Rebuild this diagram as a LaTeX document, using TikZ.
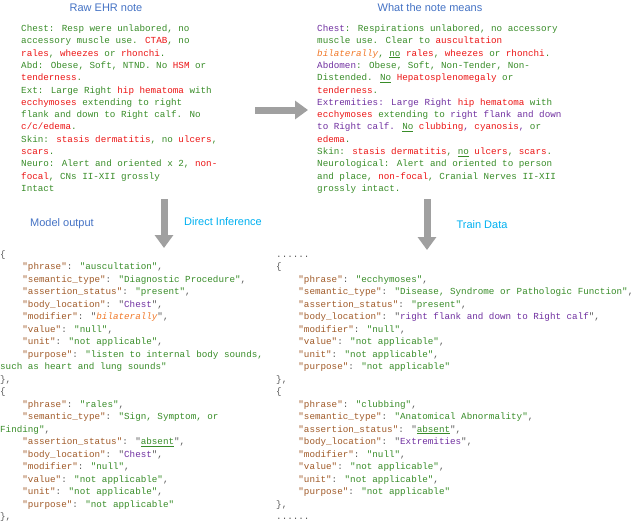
\documentclass[tikz,border=0pt]{standalone}
\usepackage{fontspec}
\usetikzlibrary{arrows.meta}
\newfontfamily\mono{Liberation Mono}
\newfontfamily\sans{Liberation Sans}
\definecolor{tg}{RGB}{56,140,40}
\definecolor{tr}{RGB}{235,20,20}
\definecolor{tp}{RGB}{112,48,160}
\definecolor{to}{RGB}{240,120,40}
\definecolor{tk}{RGB}{160,90,40}
\definecolor{td}{RGB}{90,90,90}
\definecolor{tb}{RGB}{68,114,196}
\definecolor{tc}{RGB}{0,176,240}
\definecolor{ta}{RGB}{160,160,160}
\newcommand\R[1]{\textcolor{tr}{#1}}
\newcommand\Pp[1]{\textcolor{tp}{#1}}
\newcommand\Ov[1]{\textcolor{to}{\itshape #1}}
\newcommand\K[1]{\textcolor{tk}{"#1"}}
\newcommand\V[1]{\textcolor{tg}{"#1"}}
\newcommand\Ul[1]{\underline{#1}}
\begin{document}
\begin{tikzpicture}[x=1pt,y=-1pt,
  ln/.style={anchor=base west,inner sep=0,text=tg,font=\mono\fontsize{9.25}{12}\selectfont},
  js/.style={ln,text=td},
  ttl/.style={inner sep=0,font=\sans\fontsize{11}{13}\selectfont},
  bigarrow/.style={line width=7pt,ta,-{Triangle[width=18pt,length=13pt]}}]
\useasboundingbox (0,0) rectangle (640,522);
% titles
\node[ttl,text=tb] (t1) at (106,8) {Raw EHR note};
\node[ttl,text=tb] (t2) at (430,8) {What the note means};
\node[ttl,text=tb] (t3) at (62,224) {Model output};
\node[ttl,text=tc] (t4) at (223,222) {Direct Inference};
\node[ttl,text=tc] (t5) at (482,225) {Train Data};
% raw note
\node[ln] (a1) at (21,31.5) {Chest: Resp were unlabored, no};
\node[ln] (a2) at (21,43.8) {accessory muscle use. \R{CTAB}, no};
\node[ln] (a3) at (21,56.1) {\R{rales}, \R{wheezes} or \R{rhonchi}.};
\node[ln] (a4) at (21,68.4) {Abd: Obese, Soft, NTND. No \R{HSM} or};
\node[ln] (a5) at (21,80.7) {\R{tenderness}.};
\node[ln] (a6) at (21,93.0) {Ext: Large Right \R{hip hematoma} with};
\node[ln] (a7) at (21,105.3) {\R{ecchymoses} extending to right};
\node[ln] (a8) at (21,117.6) {flank and down to Right calf. No};
\node[ln] (a9) at (21,129.9) {\R{c/c/edema}.};
\node[ln] (a10) at (21,142.2) {Skin: \R{stasis dermatitis}, no \R{ulcers},};
\node[ln] (a11) at (21,154.5) {\R{scars}.};
\node[ln] (a12) at (21,166.8) {Neuro: Alert and oriented x 2, \R{non-}};
\node[ln] (a13) at (21,179.1) {\R{focal}, CNs II-XII grossly};
\node[ln] (a14) at (21,191.4) {Intact};
% meaning
\node[ln] (b1) at (317,31.5) {\Pp{Chest}: Respirations unlabored, no accessory};
\node[ln] (b2) at (317,43.8) {muscle use. Clear to \R{auscultation}};
\node[ln] (b3) at (317,56.1) {\Ov{bilaterally}, \Ul{no} \R{rales}, \R{wheezes} or \R{rhonchi}.};
\node[ln] (b4) at (317,68.4) {\Pp{Abdomen}: Obese, Soft, Non-Tender, Non-};
\node[ln] (b5) at (317,80.7) {Distended. \Ul{No} \R{Hepatosplenomegaly} or};
\node[ln] (b6) at (317,93.0) {\R{tenderness}.};
\node[ln,text=tp] (b7) at (317,105.3) {Extremities: Large Right \R{hip hematoma} \textcolor{tg}{with}};
\node[ln,text=tp] (b8) at (317,117.6) {\R{ecchymoses} \textcolor{tg}{extending to} right flank and down};
\node[ln,text=tp] (b9) at (317,129.9) {to Right calf. \textcolor{tg}{\Ul{No}} \R{clubbing}, \R{cyanosis}, \textcolor{tg}{or}};
\node[ln] (b10) at (317,142.2) {\R{edema}.};
\node[ln] (b11) at (317,154.5) {Skin: \R{stasis dermatitis}, \Ul{no} \R{ulcers}, \R{scars}.};
\node[ln] (b12) at (317,166.8) {Neurological: Alert and oriented to person};
\node[ln] (b13) at (317,179.1) {and place, \R{non-focal}, Cranial Nerves II-XII};
\node[ln] (b14) at (317,191.4) {grossly intact.};
% arrows
\coordinate (h1) at (255,110); \coordinate (h2) at (308,110);
\draw[bigarrow] (h1) -- (h2);
\coordinate (v1) at (164,199); \coordinate (v2) at (164,248);
\draw[bigarrow] (v1) -- (v2);
\coordinate (w1) at (427,199); \coordinate (w2) at (427,250);
\draw[bigarrow] (w1) -- (w2);
% model output
\node[js] (c0) at (0,257) {\{};
\node[js] (c1) at (22.2,269.5) {\K{phrase}: \V{auscultation},};
\node[js] (c2) at (22.2,282) {\K{semantic\_type}: \V{Diagnostic Procedure},};
\node[js] (c3) at (22.2,294.5) {\K{assertion\_status}: \V{present},};
\node[js] (c4) at (22.2,307) {\K{body\_location}: "\Pp{Chest}",};
\node[js] (c5) at (22.2,319.5) {\K{modifier}: "\Ov{bilaterally}",};
\node[js] (c6) at (22.2,332) {\K{value}: \V{null},};
\node[js] (c7) at (22.2,344.5) {\K{unit}: \V{not applicable},};
\node[js] (c8) at (22.2,357) {\K{purpose}: \textcolor{tg}{"listen to internal body sounds,}};
\node[js,text=tg] (c9) at (0,369.5) {such as heart and lung sounds"};
\node[js] (c10) at (0,382) {\},};
\node[js] (c11) at (0,394.5) {\{};
\node[js] (c12) at (22.2,407) {\K{phrase}: \V{rales},};
\node[js] (c13) at (22.2,419.5) {\K{semantic\_type}: \textcolor{tg}{"Sign, Symptom, or}};
\node[js] (c14) at (0,432) {\textcolor{tg}{Finding"},};
\node[js] (c15) at (22.2,444.5) {\K{assertion\_status}: "\textcolor{tg}{\Ul{absent}}",};
\node[js] (c16) at (22.2,457) {\K{body\_location}: "\Pp{Chest}",};
\node[js] (c17) at (22.2,469.5) {\K{modifier}: \V{null},};
\node[js] (c18) at (22.2,482) {\K{value}: \V{not applicable},};
\node[js] (c19) at (22.2,494.5) {\K{unit}: \V{not applicable},};
\node[js] (c20) at (22.2,507) {\K{purpose}: \V{not applicable}};
\node[js] (c21) at (0,519.5) {\},};
% train data
\node[js] (d0) at (276,257) {......};
\node[js] (d1) at (276,269.5) {\{};
\node[js] (d2) at (298.2,282) {\K{phrase}: \V{ecchymoses},};
\node[js] (d3) at (298.2,294.5) {\K{semantic\_type}: \V{Disease, Syndrome or Pathologic Function},};
\node[js] (d4) at (298.2,307) {\K{assertion\_status}: \V{present},};
\node[js] (d5) at (298.2,319.5) {\K{body\_location}: "\Pp{right flank and down to Right calf}",};
\node[js] (d6) at (298.2,332) {\K{modifier}: \V{null},};
\node[js] (d7) at (298.2,344.5) {\K{value}: \V{not applicable},};
\node[js] (d8) at (298.2,357) {\K{unit}: \V{not applicable},};
\node[js] (d9) at (298.2,369.5) {\K{purpose}: \V{not applicable}};
\node[js] (d10) at (276,382) {\},};
\node[js] (d11) at (276,394.5) {\{};
\node[js] (d12) at (298.2,407) {\K{phrase}: \V{clubbing},};
\node[js] (d13) at (298.2,419.5) {\K{semantic\_type}: \V{Anatomical Abnormality},};
\node[js] (d14) at (298.2,432) {\K{assertion\_status}: "\textcolor{tg}{\Ul{absent}}",};
\node[js] (d15) at (298.2,444.5) {\K{body\_location}: "\Pp{Extremities}",};
\node[js] (d16) at (298.2,457) {\K{modifier}: \V{null},};
\node[js] (d17) at (298.2,469.5) {\K{value}: \V{not applicable},};
\node[js] (d18) at (298.2,482) {\K{unit}: \V{not applicable},};
\node[js] (d19) at (298.2,494.5) {\K{purpose}: \V{not applicable}};
\node[js] (d20) at (276,507) {\},};
\node[js] (d21) at (276,519.5) {......};
\end{tikzpicture}
\end{document}
